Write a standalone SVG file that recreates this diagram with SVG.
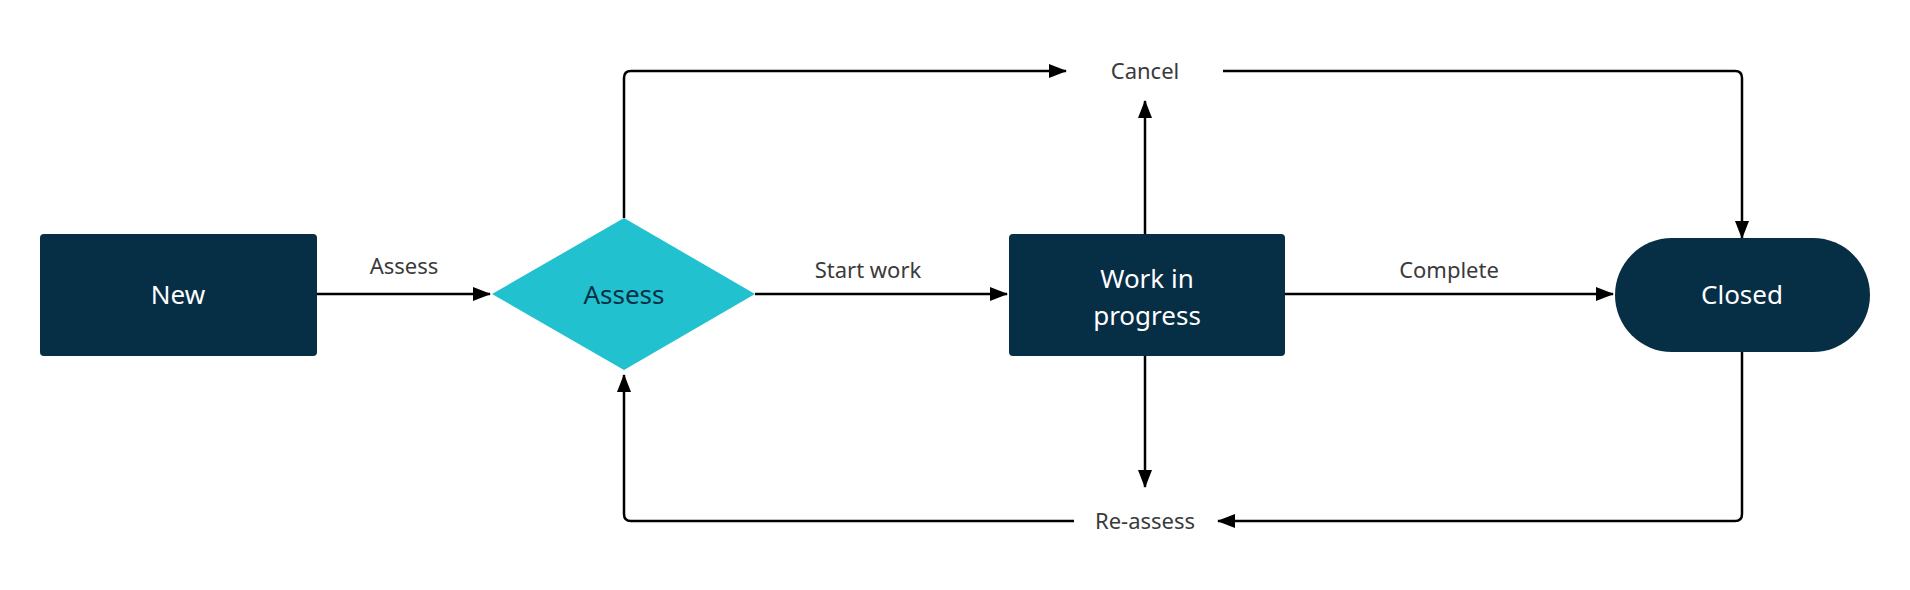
<svg xmlns="http://www.w3.org/2000/svg" width="1910" height="590" viewBox="0 0 1910 590">
<style>
.n{fill:#062e45}
.t{font-family:"Noto Sans",sans-serif;font-size:26px;fill:#fff;text-anchor:middle}
.l{font-family:"Noto Sans",sans-serif;font-size:22px;fill:#3a3a3a;text-anchor:middle}
.c{fill:none;stroke:#000;stroke-width:2.5}
</style>
<defs><marker id="a" markerWidth="10" markerHeight="8" refX="9" refY="4" orient="auto" markerUnits="userSpaceOnUse" viewBox="0 0 10 8"><path d="M0,0L10,4L0,8z" fill="#000"/></marker>
<marker id="b" markerWidth="18" markerHeight="14" refX="17" refY="7" orient="auto" markerUnits="userSpaceOnUse" viewBox="0 0 18 14"><path d="M0,0L18,7L0,14z" fill="#000"/></marker></defs>
<rect width="1910" height="590" fill="#fff"/>
<g id="connectors">
<path class="c" d="M317,294H490" marker-end="url(#b)"/>
<path class="c" d="M755,294H1007" marker-end="url(#b)"/>
<path class="c" d="M1285,294H1613" marker-end="url(#b)"/>
<path class="c" d="M624,218V78Q624,71 631,71H1066" marker-end="url(#b)"/>
<path class="c" d="M1223,71H1735Q1742,71 1742,78V238" marker-end="url(#b)"/>
<path class="c" d="M1145,234V101" marker-end="url(#b)"/>
<path class="c" d="M1145,356V487" marker-end="url(#b)"/>
<path class="c" d="M1742,352V514Q1742,521 1735,521H1218" marker-end="url(#b)"/>
<path class="c" d="M1074,521H631Q624,521 624,514V375" marker-end="url(#b)"/>
<text class="l" x="404" y="274">Assess</text>
<text class="l" x="868" y="278">Start work</text>
<text class="l" x="1449" y="278">Complete</text>
<text class="l" x="1145" y="79">Cancel</text>
<text class="l" x="1145" y="529">Re-assess</text>
</g>
<g id="new"><rect class="n" x="40" y="234" width="277" height="122" rx="4"/><text class="t" x="178" y="304">New</text></g>
<g id="assess"><path d="M492,294L624,218L755,294L624,370z" fill="#22c1cf"/><text class="t" x="624" y="304" style="fill:#062e45">Assess</text></g>
<g id="wip"><rect class="n" x="1009" y="234" width="276" height="122" rx="4"/><text class="t" x="1147" y="288">Work in</text><text class="t" x="1147" y="325">progress</text></g>
<g id="closed"><rect class="n" x="1615" y="238" width="255" height="114" rx="57"/><text class="t" x="1742" y="304">Closed</text></g>
</svg>
